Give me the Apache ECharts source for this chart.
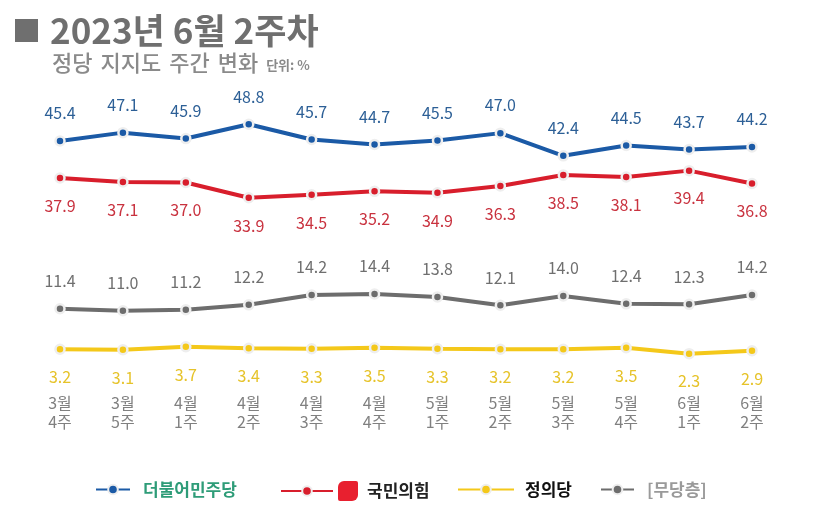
<!DOCTYPE html>
<html><head><meta charset="utf-8">
<script src="https://cdn.jsdelivr.net/npm/echarts@6/dist/echarts.min.js"></script>
<style>html,body{margin:0;padding:0;background:#fff}#c{width:824px;height:507px}</style>
</head><body><div id="c"></div>
<script>
const categories = ['3월\n4주','3월\n5주','4월\n1주','4월\n2주','4월\n3주','4월\n4주','5월\n1주','5월\n2주','5월\n3주','5월\n4주','6월\n1주','6월\n2주'];
const seriesNames = ['더불어민주당','국민의힘','정의당','무당층'];
const demValues = [45.4,47.1,45.9,48.8,45.7,44.7,45.5,47.0,42.4,44.5,43.7,44.2];
const pppValues = [37.9,37.1,37.0,33.9,34.5,35.2,34.9,36.3,38.5,38.1,39.4,36.8];
const jusValues = [3.2,3.1,3.7,3.4,3.3,3.5,3.3,3.2,3.2,3.5,2.3,2.9];
const noneValues = [11.4,11.0,11.2,12.2,14.2,14.4,13.8,12.1,14.0,12.4,12.3,14.2];

const FONT = '"Noto Sans CJK KR", "Noto Sans", sans-serif';
const chart = echarts.init(document.getElementById('c'));

function mkSeries(name, data, lineColor, labelColor, pos) {
  return {
    name: name, type: 'line', data: data,
    symbol: 'circle', symbolSize: 9,
    lineStyle: {color: lineColor, width: 4},
    itemStyle: {color: lineColor, borderColor: '#eeeeee', borderWidth: 2.5},
    label: {show: true, position: pos, distance: 14, color: labelColor,
      fontFamily: FONT, fontSize: 16,
      formatter: p => p.value.toFixed(1)},
    z: 3
  };
}

function mkLegend(name, left, w, textStyle, formatter) {
  return {
    data: [{name: name}],
    left: left, top: 476, itemWidth: w, itemHeight: 12, itemGap: 0,
    textStyle: textStyle, formatter: formatter
  };
}

chart.setOption({
  animation: false,
  title: [{
    text: '{sq|}{t|2023년 6월 2주차}',
    left: 10, top: 8,
    textStyle: {rich: {
      sq: {width: 23, height: 23, backgroundColor: '#6f6f6f'},
      t: {fontFamily: FONT, fontSize: 35, fontWeight: 'bold', color: '#6f6f6f', padding: [0,0,0,12]}
    }}
  }, {
    text: '{a|정당}{a|지지도}{a|주간}{a|변화}{b|단위: %}',
    left: 47, top: 47,
    textStyle: {rich: {
      a: {fontFamily: FONT, fontSize: 22, fontWeight: 500, color: '#8a8a8a', padding: [0,8,0,0]},
      b: {fontFamily: FONT, fontSize: 13, color: '#8a8a8a', padding: [5,0,0,0]}
    }}
  }],
  legend: [
    mkLegend('더불어민주당', 90, 34, {fontFamily: FONT, fontSize: 17, fontWeight: 'bold', color: '#2e9c78', padding: [0,0,0,8]}, n => n),
    mkLegend('국민의힘', 275, 52, {rich: {
      logo: {width: 20, height: 20, backgroundColor: '#e8202f', borderRadius: [6,2,6,2]},
      t: {fontFamily: FONT, fontSize: 17, fontWeight: 'bold', color: '#222', padding: [0,0,0,9]}}},
      n => '{logo|}{t|' + n + '}'),
    mkLegend('정의당', 452, 56, {fontFamily: FONT, fontSize: 17, fontWeight: 'bold', color: '#111', padding: [0,0,0,6]}, n => n),
    mkLegend('무당층', 595, 33, {fontFamily: FONT, fontSize: 17, fontWeight: 'bold', color: '#9a9a9a', padding: [0,0,0,8]}, n => '[' + n + ']')
  ],
  grid: {left: 60, right: 72, top: 69, bottom: 142},
  xAxis: {
    type: 'category', data: categories, boundaryGap: false,
    axisLine: {show: false}, axisTick: {show: false}, splitLine: {show: false},
    axisLabel: {color: '#808080', fontFamily: FONT, fontSize: 16, lineHeight: 19, margin: 28, interval: 0}
  },
  yAxis: {type: 'value', min: 0, max: 60, show: false},
  series: [
    mkSeries(seriesNames[0], demValues, '#1b5aa6', '#2c5f96', 'top'),
    mkSeries(seriesNames[1], pppValues, '#d81e2c', '#c9323f', 'bottom'),
    mkSeries(seriesNames[2], jusValues, '#f4c81a', '#e6c32a', 'bottom'),
    mkSeries(seriesNames[3], noneValues, '#6d6d6d', '#6f6f6f', 'top')
  ]
});
</script></body></html>
